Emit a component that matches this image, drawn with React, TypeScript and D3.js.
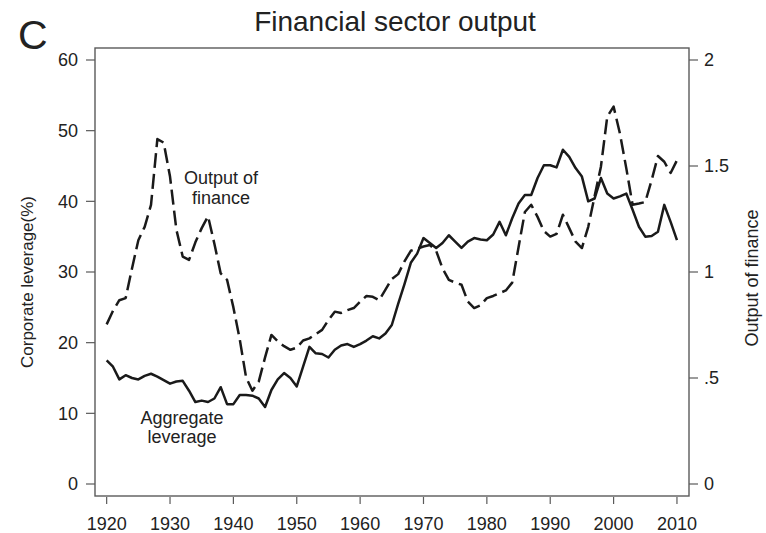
import React from "react";
import * as d3 from "d3";

const years: number[] = d3.range(1920, 2011);

// Aggregate corporate leverage (%), left axis
const leverage: number[] = [
  17.5, 16.6, 14.8, 15.4, 15.0, 14.8, 15.3, 15.6, 15.2, 14.7,
  14.2, 14.5, 14.6, 13.2, 11.6, 11.8, 11.6, 12.1, 13.7, 11.3,
  11.3, 12.6, 12.6, 12.5, 12.1, 10.9, 13.3, 14.8, 15.7, 15.0,
  13.8, 16.6, 19.4, 18.5, 18.4, 17.9, 19.0, 19.6, 19.8, 19.4,
  19.8, 20.3, 20.9, 20.6, 21.3, 22.5, 25.5, 28.3, 31.3, 32.6,
  34.8, 34.1, 33.4, 34.1, 35.2, 34.3, 33.4, 34.3, 34.8, 34.6,
  34.5, 35.3, 37.1, 35.2, 37.6, 39.7, 40.9, 40.9, 43.3, 45.1,
  45.1, 44.8, 47.3, 46.3, 44.7, 43.5, 40.0, 40.4, 43.3, 41.1,
  40.4, 40.7, 41.1, 38.8, 36.4, 35.0, 35.1, 35.7, 39.5, 37.1,
  34.5,
];

// Output of finance, right axis
const finance: number[] = [
  0.753, 0.817, 0.867, 0.877, 1.017, 1.15, 1.213, 1.317, 1.627, 1.61,
  1.45, 1.2, 1.073, 1.057, 1.14, 1.207, 1.263, 1.133, 0.993, 0.963,
  0.833, 0.683, 0.503, 0.44, 0.483, 0.597, 0.703, 0.673, 0.65, 0.633,
  0.643, 0.677, 0.687, 0.707, 0.727, 0.773, 0.813, 0.807, 0.82, 0.83,
  0.86, 0.887, 0.883, 0.867, 0.917, 0.967, 0.99, 1.05, 1.1, 1.11,
  1.12, 1.127, 1.1, 1.017, 0.963, 0.95, 0.94, 0.86, 0.83, 0.843,
  0.877, 0.887, 0.9, 0.913, 0.95, 1.117, 1.283, 1.317, 1.26, 1.193,
  1.167, 1.18, 1.27, 1.207, 1.143, 1.113, 1.213, 1.357, 1.497, 1.733,
  1.78, 1.653, 1.49, 1.317, 1.323, 1.33, 1.433, 1.547, 1.52, 1.467,
  1.527,
];

const xTicks: number[] = [1920, 1930, 1940, 1950, 1960, 1970, 1980, 1990, 2000, 2010];
const leftTicks: number[] = [0, 10, 20, 30, 40, 50, 60];
const rightTicks: number[] = [0, 0.5, 1, 1.5, 2];
const rightTickLabels: string[] = ["0", ".5", "1", "1.5", "2"];

const FONT = "'Liberation Sans', Arial, Helvetica, sans-serif";

export default function App() {
  const W = 766, H = 533;
  const left = 95, right = 689, top = 48, bottom = 496;
  const x = d3.scaleLinear().domain([1918.16, 2011.9]).range([left, right]);
  const yL = d3.scaleLinear().domain([0, 60]).range([484, 60]);
  const yR = d3.scaleLinear().domain([0, 2]).range([484, 60]);

  const levLine = d3.line<number>().x((_, i) => x(years[i])).y((d) => yL(d));
  const finLine = d3.line<number>().x((_, i) => x(years[i])).y((d) => yR(d));

  const axisColor = "#5a5a5a";
  const textColor = "#222";

  return (
    <svg width={W} height={H} style={{ position: "absolute", left: 0, top: 0, background: "#fff" }}
      fontFamily={FONT}>
      <rect x={0} y={0} width={W} height={H} fill="#fff" />
      <text x={18} y={49} fontSize={41} fill={textColor}>C</text>
      <text x={395} y={31} fontSize={28} textAnchor="middle" fill={textColor}>Financial sector output</text>

      {/* plot box */}
      <rect x={left} y={top} width={right - left} height={bottom - top} fill="none" stroke={axisColor} strokeWidth={1.4} />

      {/* left axis */}
      {leftTicks.map((t) => (
        <g key={"l" + t}>
          <line x1={86} x2={left} y1={yL(t)} y2={yL(t)} stroke={axisColor} strokeWidth={1.2} />
          <text x={78} y={yL(t)} dy="0.35em" fontSize={18} textAnchor="end" fill={textColor}>{t}</text>
        </g>
      ))}
      {/* right axis */}
      {rightTicks.map((t, i) => (
        <g key={"r" + t}>
          <line x1={right} x2={698} y1={yR(t)} y2={yR(t)} stroke={axisColor} strokeWidth={1.2} />
          <text x={704} y={yR(t)} dy="0.35em" fontSize={18} textAnchor="start" fill={textColor}>{rightTickLabels[i]}</text>
        </g>
      ))}
      {/* bottom axis */}
      {xTicks.map((t) => (
        <g key={"x" + t}>
          <line x1={x(t)} x2={x(t)} y1={bottom + 1} y2={504} stroke={axisColor} strokeWidth={1.2} />
          <text x={x(t)} y={530} fontSize={18} textAnchor="middle" fill={textColor}>{t}</text>
        </g>
      ))}

      <text transform="translate(33,282) rotate(-90)" fontSize={17} textAnchor="middle" fill={textColor}>Corporate leverage(%)</text>
      <text transform="translate(758,278) rotate(-90)" fontSize={18} textAnchor="middle" fill={textColor}>Output of finance</text>

      {/* series */}
      <path d={finLine(finance) || ""} fill="none" stroke="#1a1a1a" strokeWidth={2.5}
        strokeDasharray="15 6" strokeLinejoin="round" />
      <path d={levLine(leverage) || ""} fill="none" stroke="#1a1a1a" strokeWidth={2.5}
        strokeLinejoin="round" />

      {/* annotations */}
      <text x={221} y={184} fontSize={18} textAnchor="middle" fill={textColor}>Output of</text>
      <text x={221} y={204} fontSize={18} textAnchor="middle" fill={textColor}>finance</text>
      <text x={182} y={424} fontSize={18} textAnchor="middle" fill={textColor}>Aggregate</text>
      <text x={182} y={443} fontSize={18} textAnchor="middle" fill={textColor}>leverage</text>
    </svg>
  );
}
